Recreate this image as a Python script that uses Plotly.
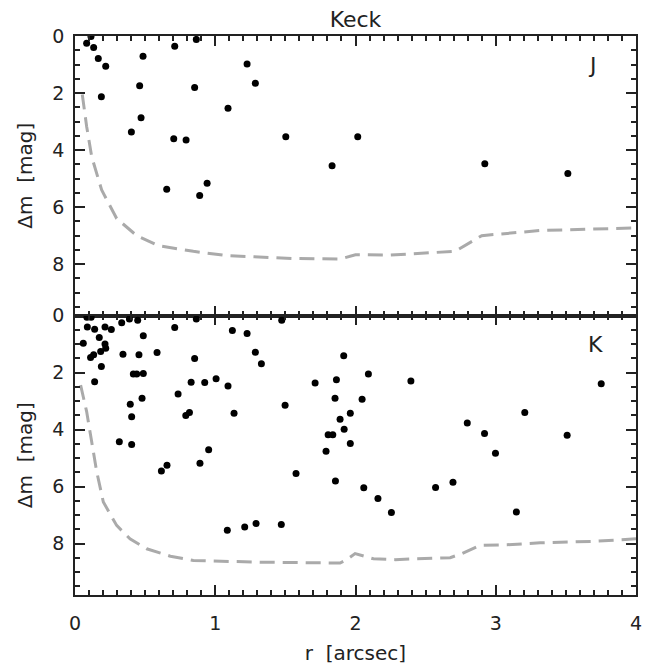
import plotly.graph_objects as go
from plotly.subplots import make_subplots

# ---- J band data ----
j_r = [0.083, 0.114, 0.133, 0.166, 0.219, 0.188, 0.485, 0.461, 0.471, 0.402,
       0.711, 0.865, 0.853, 0.704, 0.792, 0.654, 0.889, 0.942, 1.091, 1.227,
       1.286, 1.503, 1.833, 2.016, 2.922, 3.514]
j_dm = [0.25, 0.02, 0.40, 0.79, 1.06, 2.13, 0.71, 1.74, 2.87, 3.37,
        0.36, 0.12, 1.81, 3.60, 3.65, 5.37, 5.59, 5.16, 2.53, 0.98,
        1.66, 3.53, 4.55, 3.53, 4.48, 4.82]
j_cr = [0.052, 0.083, 0.119, 0.19, 0.297, 0.44, 0.594, 0.844, 1.08, 1.557,
        1.89, 2.0, 2.247, 2.71, 2.90, 3.317, 4.0]
j_cm = [2.05, 3.17, 4.23, 5.4, 6.4, 7.0, 7.35, 7.55, 7.7, 7.8,
        7.82, 7.67, 7.68, 7.55, 7.0, 6.82, 6.73]

# ---- K band data ----
k_r = [0.059, 0.085, 0.115, 0.088, 0.14, 0.173, 0.214, 0.259, 0.214, 0.219,
       0.183, 0.133, 0.111, 0.188, 0.14, 0.333, 0.388, 0.447, 0.487, 0.342,
       0.456, 0.416, 0.44, 0.487, 0.478, 0.394, 0.404, 0.316, 0.404, 0.585,
       0.711, 0.865, 0.853, 0.735, 0.828, 0.79, 0.816, 0.925, 1.006, 1.091,
       1.134, 0.616, 0.656, 0.891, 0.953, 1.122, 1.227, 1.286, 1.329, 1.474,
       1.498, 1.576, 1.086, 1.21, 1.291, 1.471, 1.712, 1.864, 1.916, 1.854,
       1.89, 1.963, 1.919, 1.963, 1.805, 1.838, 1.79, 1.857, 2.092, 2.047,
       2.059, 2.16, 2.256, 2.395, 2.571, 2.695, 2.797, 2.92, 2.998, 3.207,
       3.147, 3.509, 3.752]
k_dm = [0.97, 0.06, 0.06, 0.40, 0.48, 0.77, 0.40, 0.49, 1.00, 1.15,
        1.26, 1.38, 1.47, 1.79, 2.32, 0.25, 0.12, 0.17, 0.71, 1.36,
        1.38, 2.05, 2.05, 2.03, 2.90, 3.11, 3.55, 4.43, 4.52, 1.30,
        0.42, 0.12, 1.51, 2.75, 2.34, 3.51, 3.40, 2.35, 2.22, 2.47,
        3.43, 5.45, 5.25, 5.18, 4.71, 0.53, 0.63, 1.29, 1.69, 0.17,
        3.15, 5.54, 7.53, 7.42, 7.29, 7.33, 2.37, 2.25, 1.41, 2.90,
        3.64, 3.43, 3.99, 4.49, 4.18, 4.18, 4.76, 5.80, 2.05, 2.94,
        6.04, 6.42, 6.91, 2.30, 6.03, 5.85, 3.77, 4.14, 4.83, 3.40,
        6.89, 4.20, 2.39]
k_cr = [0.04, 0.083, 0.119, 0.155, 0.202, 0.297, 0.392, 0.511, 0.68, 0.844,
        1.32, 1.89, 1.94, 1.997, 2.128, 2.282, 2.675, 2.758, 2.89, 3.08,
        3.317, 3.697, 4.0]
k_cm = [2.44, 3.37, 4.43, 5.48, 6.54, 7.36, 7.83, 8.18, 8.44, 8.59,
        8.65, 8.68, 8.55, 8.35, 8.53, 8.56, 8.49, 8.35, 8.06, 8.04,
        7.97, 7.92, 7.83]

x_ticks = [0, 1, 2, 3, 4]
y_ticks = [0, 2, 4, 6, 8]

FONT = "DejaVu Sans"
INK = "#222222"

fig = make_subplots(rows=2, cols=1, shared_xaxes=True, vertical_spacing=0)

curve_style = dict(color="#aaaaaa", width=3, dash="15px,8px")
marker_style = dict(color="black", size=7)

fig.add_trace(go.Scatter(x=j_cr, y=j_cm, mode="lines", line=curve_style,
                         showlegend=False, hoverinfo="skip"), row=1, col=1)
fig.add_trace(go.Scatter(x=j_r, y=j_dm, mode="markers", marker=marker_style,
                         showlegend=False), row=1, col=1)
fig.add_trace(go.Scatter(x=k_cr, y=k_cm, mode="lines", line=curve_style,
                         showlegend=False, hoverinfo="skip"), row=2, col=1)
fig.add_trace(go.Scatter(x=k_r, y=k_dm, mode="markers", marker=marker_style,
                         showlegend=False), row=2, col=1)

axis_common = dict(
    showline=True, linecolor=INK, linewidth=1.5, mirror="ticks",
    ticks="inside", tickcolor=INK, tickwidth=1.5,
    showgrid=False, zeroline=False, automargin=False,
    tickfont=dict(family=FONT, size=19, color=INK),
)

for row in (1, 2):
    fig.update_xaxes(
        range=[0, 4], tickvals=x_ticks, ticklen=10,
        minor=dict(dtick=0.1, ticklen=5, ticks="inside", tickcolor=INK, tickwidth=1.5),
        ticklabelstandoff=10,
        **axis_common, row=row, col=1)
    fig.update_yaxes(
        range=[9.8, 0], tickvals=y_ticks, ticklen=10,
        minor=dict(dtick=0.5, ticklen=5, ticks="inside", tickcolor=INK, tickwidth=1.5),
        ticklabelstandoff=5,
        title=dict(text="Δm  [mag]", font=dict(family=FONT, size=20, color=INK), standoff=14),
        **axis_common, row=row, col=1)

fig.update_xaxes(showticklabels=False, row=1, col=1)
fig.update_xaxes(title=dict(text="r  [arcsec]", font=dict(family=FONT, size=20, color=INK),
                            standoff=14), row=2, col=1)

fig.add_annotation(x=3.69, y=1.05, xref="x", yref="y", text="J", showarrow=False,
                   font=dict(family=FONT, size=22, color=INK))
fig.add_annotation(x=3.71, y=1.03, xref="x2", yref="y2", text="K", showarrow=False,
                   font=dict(family=FONT, size=22, color=INK))

# page body has an 8px default margin, so the figure is sized to fit the window
fig.update_layout(
    width=652, height=657,
    margin=dict(l=67, r=24, t=28, b=70),
    paper_bgcolor="white", plot_bgcolor="white",
    title=dict(text="Keck", x=0.533, xanchor="center", y=0.983, yanchor="middle",
               font=dict(family=FONT, size=22, color=INK)),
)

fig.write_html("out.html")
